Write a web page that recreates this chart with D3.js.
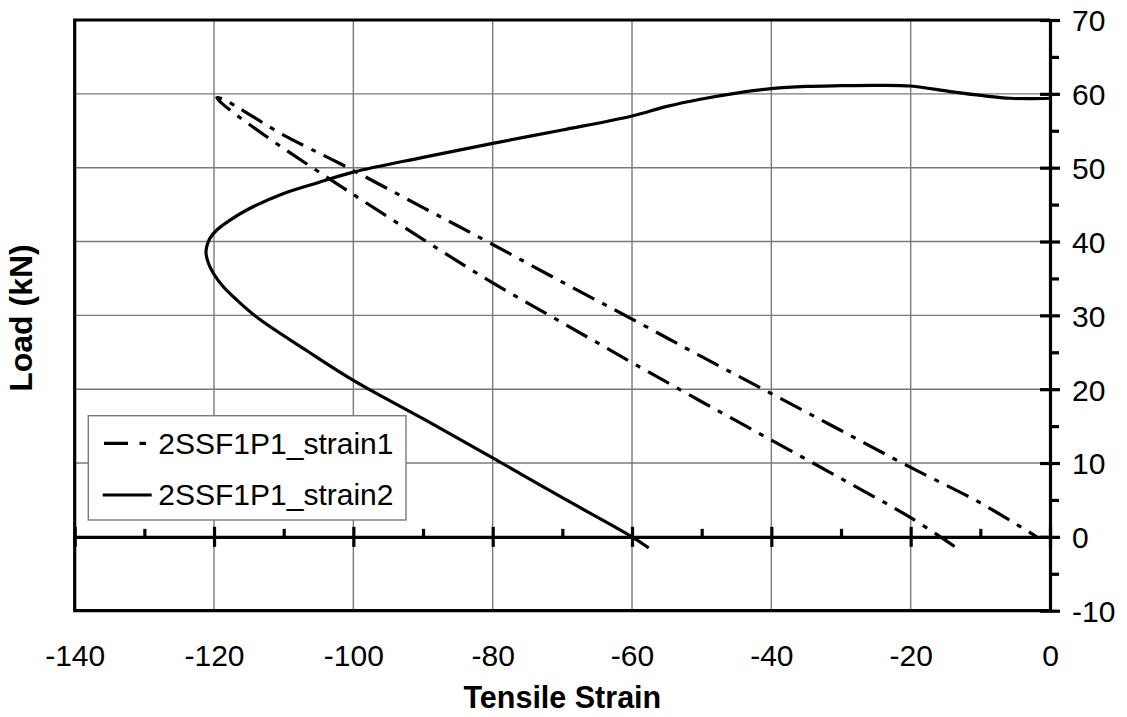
<!DOCTYPE html>
<html>
<head>
<meta charset="utf-8">
<script src="https://cdn.jsdelivr.net/npm/d3@7/dist/d3.min.js"></script>
<style>
  html, body { margin: 0; padding: 0; background: #fff; }
  svg { display: block; }
  text { font-family: "Liberation Sans", Arial, sans-serif; fill: #000; }
</style>
</head>
<body>
<svg id="chart" width="1127" height="717"></svg>
<script>
// ---- data ----
const xTicks = [-140, -120, -100, -80, -60, -40, -20, 0];
const xMinorTicks = [-130, -110, -90, -70, -50, -30, -10];
const yTicks = [-10, 0, 10, 20, 30, 40, 50, 60, 70];
const yMinorTicks = [-5, 5, 15, 25, 35, 45, 55, 65];

const seriesNames = ["2SSF1P1_strain1", "2SSF1P1_strain2"];

// strain1: up along the lower branch, then back down along the upper branch
const strain1X = [-13.7, -20, -30, -40, -50, -60, -70, -80, -90, -100.7, -110, -116.3, -119.1, -119.6,
                  -118.5, -117.2, -115.6, -110, -102, -90, -80, -70, -60, -50, -40, -30, -20, -10, -1.9];
const strain1Y = [-1.3, 2.6, 7.9, 13.1, 18.3, 23.6, 29.0, 34.4, 40.3, 46.8, 52.6, 56.8, 58.9, 59.5,
                  59.2, 58.5, 57.6, 54.4, 50.6, 44.6, 39.6, 34.5, 29.5, 24.4, 19.4, 14.4, 9.4, 4.6, 0];

const strain2X = [-57.6, -60, -70, -80, -90, -100, -106.5, -113.65, -116.75, -118.7, -120.1, -120.8,
                  -121.15, -121.05, -120.6, -119.6, -117.7, -115.3, -110, -105, -100, -90, -80, -70,
                  -60, -55, -50, -45, -40, -35, -30, -25, -20, -14.3, -9.6, -5.7, -2.5, 0];
const strain2Y = [-1.5, 0, 5.3, 10.7, 16.0, 21.2, 25.1, 29.6, 32.1, 33.9, 35.7, 37.05,
                  38.4, 39.3, 40.43, 41.56, 42.9, 44.27, 46.5, 48.0, 49.4, 51.4, 53.3, 55.1,
                  57.0, 58.3, 59.3, 60.1, 60.7, 61.0, 61.1, 61.15, 61.06, 60.3, 59.75, 59.4, 59.35, 59.4];

// ---- layout ----
const svg = d3.select("#chart");
const L = 74.7, R = 1050, T = 20, B = 610.7;
const FONT = "Liberation Sans, Arial, sans-serif";
const x = d3.scaleLinear().domain([-140, 0]).range([L, R]);
const y = d3.scaleLinear().domain([-10, 70]).range([B, T]);
const fmt = d => String(d);

// gridlines
const grid = svg.append("g").attr("stroke", "#7a7a7a").attr("stroke-width", 1.4);
grid.selectAll("line.v").data(xTicks.filter(d => d > -140 && d < 0)).join("line")
  .attr("x1", d => x(d)).attr("x2", d => x(d)).attr("y1", T).attr("y2", B);
grid.selectAll("line.h").data(yTicks.filter(d => d > -10 && d < 70)).join("line")
  .attr("x1", L).attr("x2", R).attr("y1", d => y(d)).attr("y2", d => y(d));

// frame (left, top, bottom)
svg.append("path")
  .attr("d", `M${R},${T}H${L}V${B}H${R}`)
  .attr("fill", "none").attr("stroke", "#000").attr("stroke-width", 3.2);

// series
const line = d3.line().x(d => x(d[0])).y(d => y(d[1])).curve(d3.curveCatmullRom.alpha(0.5));
const s1 = strain1X.map((v, i) => [v, strain1Y[i]]);
const s2 = strain2X.map((v, i) => [v, strain2Y[i]]);

svg.append("path").attr("d", line(s1)).attr("fill", "none").attr("stroke", "#000")
  .attr("stroke-width", 3.2).attr("stroke-dasharray", "24,9,5,9");
svg.append("path").attr("d", line(s2)).attr("fill", "none").attr("stroke", "#000")
  .attr("stroke-width", 3.2);

// x axis along y = 0 (major ticks cross, minor ticks inside/up)
const xAxisG = svg.append("g").attr("transform", `translate(0,${y(0)})`)
  .call(d3.axisBottom(x).tickValues(xTicks).tickSize(10).tickSizeOuter(0).tickFormat(""));
xAxisG.select(".domain").attr("stroke", "#000").attr("stroke-width", 3.2);
xAxisG.selectAll(".tick line").attr("y1", -10).attr("stroke-width", 3.2);
const xMinorG = svg.append("g").attr("transform", `translate(0,${y(0)})`)
  .call(d3.axisTop(x).tickValues(xMinorTicks).tickSize(8).tickFormat(""));
xMinorG.select(".domain").remove();
xMinorG.selectAll(".tick line").attr("stroke-width", 3.2);

// x tick labels at bottom
const xLab = svg.append("g").attr("transform", `translate(0,${B})`)
  .call(d3.axisBottom(x).tickValues(xTicks).tickSize(0).tickFormat(fmt));
xLab.select(".domain").remove();
xLab.selectAll("text").attr("y", 55.3).attr("dy", 0)
  .attr("font-size", 30).attr("font-family", FONT).attr("fill", "#000");

// y axis on the right
const yAxisG = svg.append("g").attr("transform", `translate(${R},0)`)
  .call(d3.axisRight(y).tickValues(yTicks).tickSize(10).tickSizeOuter(0).tickPadding(12)
    .tickFormat(fmt));
yAxisG.select(".domain").attr("stroke", "#000").attr("stroke-width", 3.2);
yAxisG.selectAll(".tick line").attr("x1", -10).attr("stroke-width", 3.2);
yAxisG.selectAll("text").attr("dy", "0.36em").attr("font-size", 30)
  .attr("font-family", FONT).attr("fill", "#000");
const yMinorG = svg.append("g").attr("transform", `translate(${R},0)`)
  .call(d3.axisRight(y).tickValues(yMinorTicks).tickSize(9).tickFormat(""));
yMinorG.select(".domain").remove();
yMinorG.selectAll(".tick line").attr("stroke-width", 3.2);

// axis titles
svg.append("text").attr("x", (L + R) / 2).attr("y", 708).attr("text-anchor", "middle")
  .attr("font-size", 30.5).attr("font-weight", "bold").text("Tensile Strain");
svg.append("text").attr("transform", `translate(32,318) rotate(-90)`)
  .attr("text-anchor", "middle").attr("font-size", 32).attr("font-weight", "bold").text("Load (kN)");

// legend
const lg = svg.append("g");
lg.append("rect").attr("x", 88.3).attr("y", 415.7).attr("width", 317.7).attr("height", 104.3)
  .attr("fill", "#fff").attr("stroke", "#7a7a7a").attr("stroke-width", 1.4);
lg.append("line").attr("x1", 104).attr("x2", 146).attr("y1", 443.3).attr("y2", 443.3)
  .attr("stroke", "#000").attr("stroke-width", 3.2).attr("stroke-dasharray", "24,11.5,6.5,11.5");
lg.append("line").attr("x1", 102.7).attr("x2", 151.7).attr("y1", 495).attr("y2", 495)
  .attr("stroke", "#000").attr("stroke-width", 3.2);
lg.append("text").attr("x", 158.3).attr("y", 453.5).attr("font-size", 30).text(seriesNames[0]);
lg.append("text").attr("x", 158.3).attr("y", 505).attr("font-size", 30).text(seriesNames[1]);
</script>
</body>
</html>
